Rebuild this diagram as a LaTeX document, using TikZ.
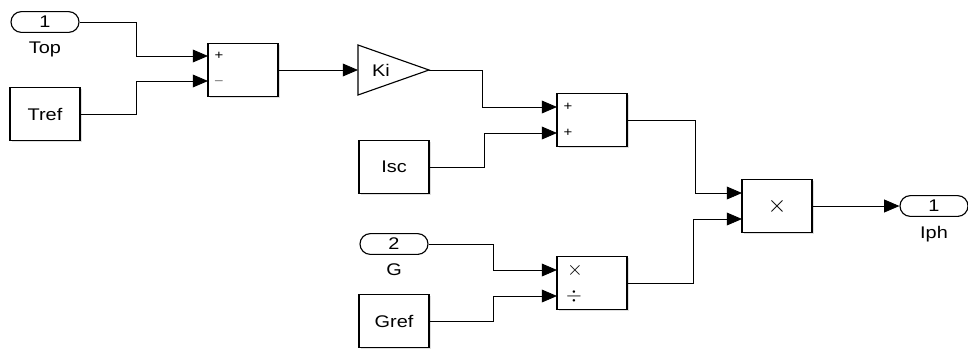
\documentclass[tikz,border=0pt]{standalone}
\usepackage{fontspec}
\setmainfont{Liberation Sans}[FakeStretch=1.18]
\usetikzlibrary{arrows.meta, positioning, shapes.misc, shadows}

\begin{document}
\begin{tikzpicture}[
    x=0.025cm, y=-0.025cm,
    font=\fontsize{12}{14}\selectfont,
    block/.style={rectangle, draw, thick, fill=white, minimum width=1.75cm, minimum height=1.32cm,
                  drop shadow={shadow xshift=0.04cm, shadow yshift=-0.04cm, opacity=0.25}},
    port/.style={rounded rectangle, draw, thick, fill=white, minimum width=1.7cm, minimum height=0.52cm, inner sep=0pt},
    sign/.style={font=\fontsize{9}{10}\selectfont, inner sep=0pt},
    bigsign/.style={font=\fontsize{14}{14}\selectfont, inner sep=0pt},
    sig/.style={-{Triangle[length=0.38cm, width=0.32cm]}, semithick}
]
    \useasboundingbox (0,0) rectangle (968,349);

    % Eingaenge
    \node[port] (top) at (45,22) {1};
    \node[below=0.1cm of top] (toplab) {Top};
    \node[block] (tref) at (45,114) {Tref};

    % Summe Top - Tref
    \node[block] (sum1) at (243,70) {};
    \node[sign] (s1p) at (219,56) {+};
    \node[sign] (s1m) at (219,81) {$-$};
    \coordinate (s1a) at (208,56);
    \coordinate (s1b) at (208,81);
    \draw[sig] (top.east) -- (136,22) |- (s1a);
    \draw[sig] (tref.east) -- (136,114) |- (s1b);

    % Verstaerkung Ki
    \coordinate (kiin) at (358,70);
    \coordinate (kiout) at (429,70);
    \draw[thick, fill=white] (358,45) -- (kiout) -- (358,95) -- cycle;
    \node (ki) at (381,70) {Ki};
    \draw[sig] (sum1.east) -- (kiin);

    % Summe mit Isc
    \node[block] (isc) at (394,167) {Isc};
    \node[block] (sum2) at (592,120) {};
    \node[sign] (s2p) at (568,107) {+};
    \node[sign] (s2q) at (568,133) {+};
    \coordinate (s2a) at (557,107);
    \coordinate (s2b) at (557,133);
    \draw[sig] (kiout) -- (482,70) |- (s2a);
    \draw[sig] (isc.east) -- (484,167) |- (s2b);

    % Einstrahlung G / Gref
    \node[port] (g) at (394,244) {2};
    \node[below=0.1cm of g] (glab) {G};
    \node[block] (gref) at (394,321) {Gref};
    \node[block] (div) at (592,283) {};
    \node[bigsign] (dmul) at (575,270) {$\times$};
    \node[bigsign] (ddiv) at (574,296) {$\div$};
    \coordinate (da) at (557,270);
    \coordinate (db) at (557,296);
    \draw[sig] (g.east) -- (493,244) |- (da);
    \draw[sig] (gref.east) -- (493,321) |- (db);

    % Produkt und Ausgang
    \node[block, font=\fontsize{17}{17}\selectfont] (mul) at (777,206) {$\times$};
    \coordinate (ma) at (742,193);
    \coordinate (mb) at (742,219);
    \draw[sig] (sum2.east) -- (695,120) |- (ma);
    \draw[sig] (div.east) -- (693,283) |- (mb);
    \node[port] (iph) at (934,206) {1};
    \node[below=0.1cm of iph] (iphlab) {Iph};
    \draw[sig] (mul.east) -- (iph.west);
\end{tikzpicture}
\end{document}
